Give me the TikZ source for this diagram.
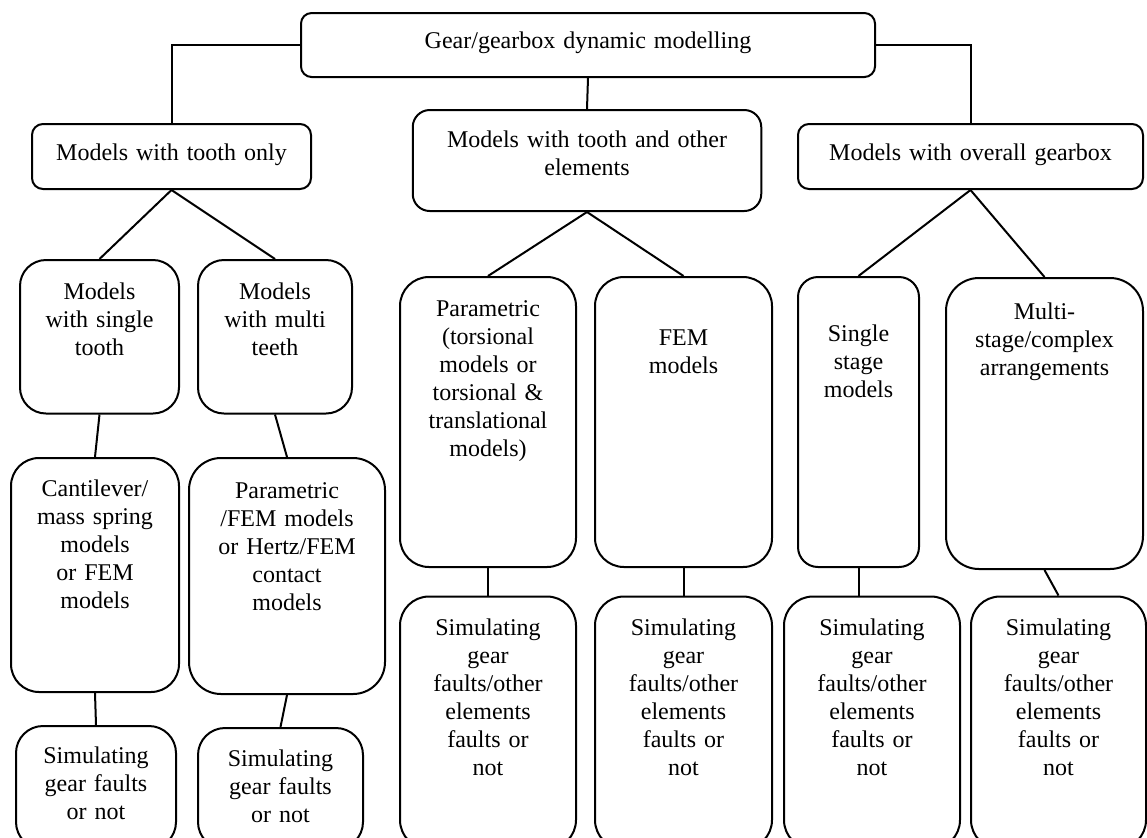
\documentclass[tikz,border=0pt]{standalone}
\usepackage{fontspec}
\setmainfont{Liberation Serif}
\usepackage{amsmath}

\tikzset{box/.style={draw, line width=1pt, anchor=north, inner sep=0pt, align=center, font=\fontsize{12}{14}\selectfont}}

\begin{document}
\begin{tikzpicture}[x=0.5pt, y=-0.5pt, line width=1pt]
\useasboundingbox (0,0) rectangle (1147,837);
\clip (0,0) rectangle (1147,837);
\node[box, minimum width=287pt, text width=270pt, text height=17.5pt, text depth=14.5pt, rounded corners=5.3pt] (root) at (588,12) {Gear/gearbox dynamic modelling};
\node[box, minimum width=139.5pt, text width=130pt, text height=18pt, text depth=14.5pt, rounded corners=5.5pt] (tooth) at (171.5,123) {Models with tooth only};
\node[box, minimum width=174.25pt, text width=165pt, text height=18.5pt, text depth=32pt, rounded corners=8.5pt] (other) at (587,109) {Models with tooth and other\\elements};
\node[box, minimum width=172.5pt, text width=165pt, text height=18pt, text depth=14.5pt, rounded corners=5.5pt] (overall) at (970.5,123) {Models with overall gearbox};
\node[box, minimum width=79.5pt, text width=74pt, text height=19.5pt, text depth=57.25pt, rounded corners=13pt] (single) at (99.5,259) {Models\\with single\\tooth};
\node[box, minimum width=77pt, text width=72pt, text height=19.5pt, text depth=57.25pt, rounded corners=13pt] (multi) at (275,259) {Models\\with multi\\teeth};
\node[box, minimum width=88pt, text width=82pt, text height=19.75pt, text depth=125.25pt, rounded corners=14.5pt] (param) at (488,276) {Parametric\\(torsional\\models or\\torsional \&\\translational\\models)};
\node[box, minimum width=88.5pt, text width=82pt, text height=34pt, text depth=111pt, rounded corners=14.5pt] (fem) at (683.5,276) {FEM\\models};
\node[box, minimum width=60.5pt, text width=56pt, text height=32pt, text depth=113pt, rounded corners=10pt] (sstage) at (858.5,276) {Single\\stage\\models};
\node[box, minimum width=98.5pt, text width=92pt, text height=20.5pt, text depth=125pt, rounded corners=16.5pt] (mstage) at (1044.5,277) {Multi-\\stage/complex\\arrangements};
\node[box, minimum width=84pt, text width=78pt, text height=19pt, text depth=98pt, rounded corners=14pt] (canti) at (95,457) {Cantilever/\\mass spring\\models\\or FEM\\models};
\node[box, minimum width=98pt, text width=92pt, text height=20pt, text depth=98pt, rounded corners=16pt] (pfem) at (287,457) {Parametric\\/FEM models\\or Hertz/FEM\\contact\\models};
\node[box, minimum width=80pt, text width=74pt, text height=18.5pt, text depth=43pt, rounded corners=13.5pt] (simA) at (96,725) {Simulating\\gear faults\\or not};
\node[box, minimum width=82.5pt, text width=76pt, text height=19pt, text depth=41.5pt, rounded corners=13.5pt] (simB) at (280.5,727) {Simulating\\gear faults\\or not};
\node[box, minimum width=88pt, text width=82pt, text height=19.5pt, text depth=106.75pt, rounded corners=14.5pt] (simC) at (488,595.5) {Simulating\\gear\\faults/other\\elements\\faults or\\not};
\node[box, minimum width=88.5pt, text width=82pt, text height=19.5pt, text depth=106.75pt, rounded corners=14.5pt] (simD) at (683.5,595.5) {Simulating\\gear\\faults/other\\elements\\faults or\\not};
\node[box, minimum width=88pt, text width=82pt, text height=19.5pt, text depth=106.75pt, rounded corners=14.5pt] (simE) at (872,595.5) {Simulating\\gear\\faults/other\\elements\\faults or\\not};
\node[box, minimum width=87.5pt, text width=82pt, text height=19.5pt, text depth=106.75pt, rounded corners=14.5pt] (simF) at (1058.5,595.5) {Simulating\\gear\\faults/other\\elements\\faults or\\not};
\draw (root.west) -| (tooth.north);
\draw (root.east) -| (overall.north);
\draw (root.south) -- (other.north);
\draw (tooth.south) -- (single.north);
\draw (tooth.south) -- (multi.north);
\draw (other.south) -- (param.north);
\draw (other.south) -- (fem.north);
\draw (overall.south) -- (sstage.north);
\draw (overall.south) -- (mstage.north);
\draw (single.south) -- (canti.north);
\draw (multi.south) -- (pfem.north);
\draw (canti.south) -- (simA.north);
\draw (pfem.south) -- (simB.north);
\draw (param.south) -- (simC.north);
\draw (fem.south) -- (simD.north);
\draw (sstage.south) -- (sstage.south |- simE.north);
\draw (mstage.south) -- (simF.north);
\end{tikzpicture}
\end{document}
